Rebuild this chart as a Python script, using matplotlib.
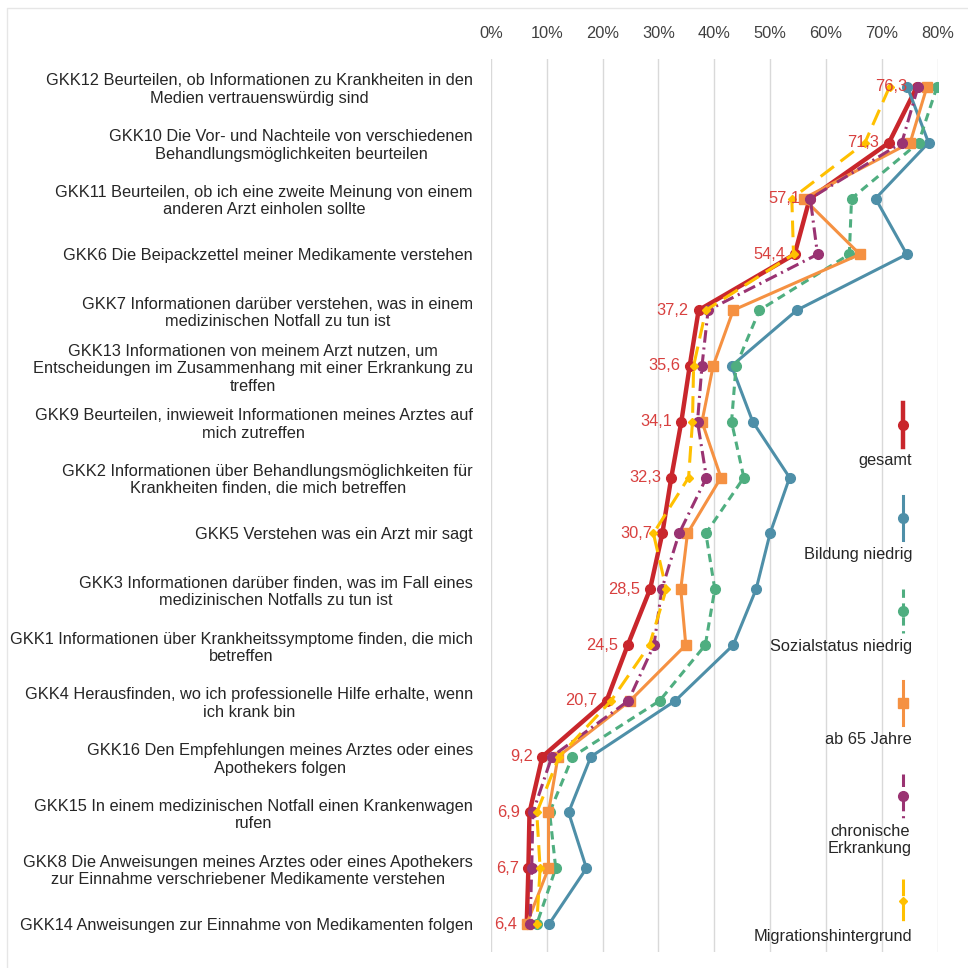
import matplotlib
matplotlib.use("Agg")
import matplotlib.pyplot as plt
from matplotlib.ticker import FuncFormatter

plt.rcParams['font.family'] = ['Liberation Sans', 'DejaVu Sans']
plt.rcParams['lines.scale_dashes'] = False

items = [
    "GKK12 Beurteilen, ob Informationen zu Krankheiten in den\nMedien vertrauenswürdig sind",
    "GKK10 Die Vor- und Nachteile von verschiedenen\nBehandlungsmöglichkeiten beurteilen",
    "GKK11 Beurteilen, ob ich eine zweite Meinung von einem\nanderen Arzt einholen sollte",
    "GKK6 Die Beipackzettel meiner Medikamente verstehen",
    "GKK7 Informationen darüber verstehen, was in einem\nmedizinischen Notfall zu tun ist",
    "GKK13 Informationen von meinem Arzt nutzen, um\nEntscheidungen im Zusammenhang mit einer Erkrankung zu\ntreffen",
    "GKK9 Beurteilen, inwieweit Informationen meines Arztes auf\nmich zutreffen",
    "GKK2 Informationen über Behandlungsmöglichkeiten für\nKrankheiten finden, die mich betreffen",
    "GKK5 Verstehen was ein Arzt mir sagt",
    "GKK3 Informationen darüber finden, was im Fall eines\nmedizinischen Notfalls zu tun ist",
    "GKK1 Informationen über Krankheitssymptome finden, die mich\nbetreffen",
    "GKK4 Herausfinden, wo ich professionelle Hilfe erhalte, wenn\nich krank bin",
    "GKK16 Den Empfehlungen meines Arztes oder eines\nApothekers folgen",
    "GKK15 In einem medizinischen Notfall einen Krankenwagen\nrufen",
    "GKK8 Die Anweisungen meines Arztes oder eines Apothekers\nzur Einnahme verschriebener Medikamente verstehen",
    "GKK14 Anweisungen zur Einnahme von Medikamenten folgen",
]

gesamt = [76.3, 71.3, 57.1, 54.4, 37.2, 35.6, 34.1, 32.3, 30.7, 28.5, 24.5, 20.7, 9.2, 6.9, 6.7, 6.4]
bildung = [74.6, 78.4, 68.9, 74.5, 54.8, 43.1, 46.9, 53.5, 50.0, 47.5, 43.4, 33.0, 17.9, 13.9, 17.1, 10.4]
sozial = [79.9, 76.6, 64.6, 64.2, 48.1, 43.9, 43.1, 45.3, 38.5, 40.1, 38.4, 30.2, 14.6, 10.5, 11.6, 8.2]
ab65 = [78.1, 75.1, 56.0, 66.1, 43.4, 39.8, 37.8, 41.2, 35.2, 34.0, 34.9, 24.9, 12.0, 10.3, 10.3, 6.4]
chronisch = [76.5, 73.6, 57.2, 58.5, 38.9, 37.8, 37.0, 38.6, 33.7, 30.6, 29.2, 24.6, 10.9, 7.5, 7.3, 7.0]
migration = [71.4, 67.0, 53.9, 54.2, 38.5, 36.3, 36.1, 35.4, 29.1, 31.4, 28.4, 21.5, 12.2, 8.2, 8.8, 8.2]

series_names = ["gesamt", "Bildung niedrig", "Sozialstatus niedrig", "ab 65 Jahre",
                "chronische\nErkrankung", "Migrationshintergrund"]
xticks = [0, 10, 20, 30, 40, 50, 60, 70, 80]

# styles: colour, linewidth, dashes, marker, markersize
styles = [
    ("#C9262C", 3.2, None, "o", 7),
    ("#4E8FA8", 2.2, None, "o", 7),
    ("#4FAE80", 2.2, (6, 4), "o", 7),
    ("#F59142", 2.2, None, "s", 7.5),
    ("#9A3372", 2.2, (9, 3.5, 1.5, 3.5), "o", 7),
    ("#FFC000", 2.2, (12, 6), "D", 4.5),
]
values = [gesamt, bildung, sozial, ab65, chronisch, migration]

W = 968
FS = 11.8
fig = plt.figure(figsize=(9.68, 9.68), dpi=100)
ax = fig.add_axes([491 / W, (W - 952) / W, (937.5 - 491) / W, (952 - 59) / W])

ypos = list(range(len(items)))
for vals, (col, lw, dash, mk, ms) in zip(values, styles):
    line, = ax.plot(vals, ypos, color=col, lw=lw, marker=mk, ms=ms,
                    markeredgecolor=col, markerfacecolor=col,
                    solid_joinstyle='round', dash_capstyle='butt')
    if dash is not None:
        line.set_dashes(dash)

for v, y in zip(gesamt, ypos):
    ax.annotate(f"{v:.1f}".replace(".", ","), (v, y), xytext=(-7, 0),
                textcoords="offset points", ha="right", va="center",
                fontsize=FS, color="#D8403F")

ax.set_xlim(0, 80)
ax.set_ylim(len(items) - 0.5, -0.5)
ax.set_xticks(xticks)
ax.xaxis.set_major_formatter(FuncFormatter(lambda x, p: f"{int(x)}%"))
ax.xaxis.tick_top()
ax.tick_params(axis="x", length=0, pad=13, labelsize=FS, labelcolor="#404040")
ax.set_yticks(ypos)
ax.set_yticklabels(items, fontsize=FS, color="#262626", multialignment="center")
ax.tick_params(axis="y", length=0, pad=13)
ax.grid(axis="x", color="#D9D9D9", lw=1)
ax.set_axisbelow(True)
for s in ax.spines.values():
    s.set_visible(False)

# legend drawn in pixel coordinates on an overlay
lax = fig.add_axes([0, 0, 1, 1], facecolor="none")
lax.set_xlim(0, W)
lax.set_ylim(W, 0)
lax.axis("off")
leg_y = [425, 518, 611, 703, 796, 901]
for (col, lw, dash, mk, ms), name, y in zip(styles, series_names, leg_y):
    seg, = lax.plot([903, 903], [y - 22, y + 22], color=col, lw=lw)
    if dash is not None:
        seg.set_dashes(dash)
    lax.plot([903], [y], marker=mk, color=col, ms=ms)
    lax.text(912, y + 36 + (8 if "\n" in name else 0), name, ha="right", va="center",
             fontsize=FS, color="#262626", multialignment="center")

# faint frame
lax.plot([7, 7, W], [W, 8, 8], color="#E6E6E6", lw=1)

fig.savefig("out.png", dpi=100)
